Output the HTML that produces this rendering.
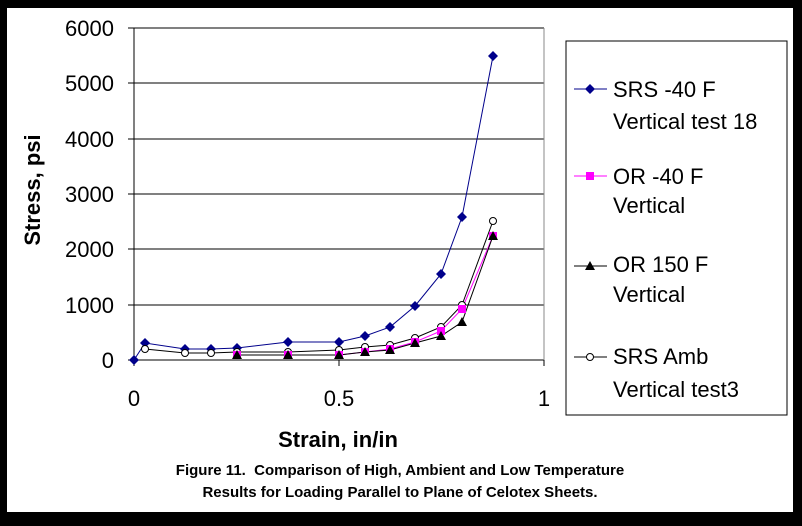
<!DOCTYPE html>
<html><head><style>body{margin:0;background:#000}</style></head><body>
<svg width="802" height="521" xmlns="http://www.w3.org/2000/svg" font-family="Liberation Sans, Arial, sans-serif">
<rect x="0" y="0" width="802" height="521" fill="#000"/>
<rect x="7" y="8" width="786" height="504" fill="#fff"/>
<g stroke="#000" stroke-width="1">
<line x1="134" y1="28" x2="544" y2="28"/>
<line x1="134" y1="83" x2="544" y2="83"/>
<line x1="134" y1="139" x2="544" y2="139"/>
<line x1="134" y1="194" x2="544" y2="194"/>
<line x1="134" y1="249" x2="544" y2="249"/>
<line x1="134" y1="305" x2="544" y2="305"/>
<line x1="128" y1="360" x2="544" y2="360"/>
<line x1="134" y1="28" x2="134" y2="366"/>
<line x1="339" y1="360" x2="339" y2="366"/>
<line x1="544" y1="360" x2="544" y2="366"/>
<line x1="128" y1="28" x2="134" y2="28"/>
<line x1="128" y1="83" x2="134" y2="83"/>
<line x1="128" y1="139" x2="134" y2="139"/>
<line x1="128" y1="194" x2="134" y2="194"/>
<line x1="128" y1="249" x2="134" y2="249"/>
<line x1="128" y1="305" x2="134" y2="305"/>
</g>
<line x1="544" y1="28" x2="544" y2="360" stroke="#888"/>
<g font-size="22" text-anchor="end">
<text x="114" y="36">6000</text><text x="114" y="91">5000</text><text x="114" y="147">4000</text>
<text x="114" y="202">3000</text><text x="114" y="257">2000</text><text x="114" y="313">1000</text><text x="114" y="368">0</text>
</g>
<g font-size="22" text-anchor="middle">
<text x="134" y="406">0</text><text x="339" y="406">0.5</text><text x="544" y="406">1</text>
</g>
<text x="338" y="447" font-size="22" font-weight="bold" text-anchor="middle">Strain, in/in</text>
<text transform="translate(40,190) rotate(-90)" font-size="22" font-weight="bold" text-anchor="middle">Stress, psi</text>
<text x="400" y="475" font-size="15" font-weight="bold" text-anchor="middle">Figure 11.&#160; Comparison of High, Ambient and Low Temperature</text>
<text x="400" y="497" font-size="15" font-weight="bold" text-anchor="middle">Results for Loading Parallel to Plane of Celotex Sheets.</text>

<polyline fill="none" stroke="#00008b" points="134,360 145,343 185,349 211,349 237,348 288,342 339,342 365,336 390,327 415,306 441,274 462,217 493,56"/>
<polyline fill="none" stroke="#000" points="145,349 185,353 211,353 237,352 288,352 339,350 365,347 390,345 415,338 441,327 462,305 493,221"/>
<polyline fill="none" stroke="#ff00ff" points="237,355 288,355 339,355 365,352 390,349 415,342 441,331 462,309 493,236"/>
<polyline fill="none" stroke="#000" points="237,355 288,355 339,355 365,352 390,350 415,343 441,336 462,322 493,236"/>
<g fill="#00008b">
<path d="M134,355l5,5-5,5-5-5z"/><path d="M145,338l5,5-5,5-5-5z"/><path d="M185,344l5,5-5,5-5-5z"/><path d="M211,344l5,5-5,5-5-5z"/><path d="M237,343l5,5-5,5-5-5z"/><path d="M288,337l5,5-5,5-5-5z"/><path d="M339,337l5,5-5,5-5-5z"/><path d="M365,331l5,5-5,5-5-5z"/><path d="M390,322l5,5-5,5-5-5z"/><path d="M415,301l5,5-5,5-5-5z"/><path d="M441,269l5,5-5,5-5-5z"/><path d="M462,212l5,5-5,5-5-5z"/><path d="M493,51l5,5-5,5-5-5z"/>
</g>
<g fill="#fff" stroke="#000">
<circle cx="145" cy="349" r="3.5"/><circle cx="185" cy="353" r="3.5"/><circle cx="211" cy="353" r="3.5"/><circle cx="237" cy="352" r="3.5"/><circle cx="288" cy="352" r="3.5"/><circle cx="339" cy="350" r="3.5"/><circle cx="365" cy="347" r="3.5"/><circle cx="390" cy="345" r="3.5"/><circle cx="415" cy="338" r="3.5"/><circle cx="441" cy="327" r="3.5"/><circle cx="462" cy="305" r="3.5"/><circle cx="493" cy="221" r="3.5"/>
</g>
<g fill="#ff00ff">
<rect x="233" y="351" width="8" height="8"/><rect x="284" y="351" width="8" height="8"/><rect x="335" y="351" width="8" height="8"/><rect x="361" y="348" width="8" height="8"/><rect x="386" y="345" width="8" height="8"/><rect x="411" y="338" width="8" height="8"/><rect x="437" y="327" width="8" height="8"/><rect x="458" y="305" width="8" height="8"/><rect x="489" y="232" width="8" height="8"/>
</g>
<g fill="#000">
<path d="M237,350l5,9h-10z"/><path d="M288,350l5,9h-10z"/><path d="M339,350l5,9h-10z"/><path d="M365,347l5,9h-10z"/><path d="M390,345l5,9h-10z"/><path d="M415,338l5,9h-10z"/><path d="M441,331l5,9h-10z"/><path d="M462,317l5,9h-10z"/><path d="M493,231l5,9h-10z"/>
</g>

<rect x="566" y="41" width="221" height="374" fill="#fff" stroke="#000"/>
<g font-size="22">
<text x="613" y="97">SRS -40 F</text><text x="613" y="129">Vertical test 18</text>
<text x="613" y="184">OR -40 F</text><text x="613" y="213">Vertical</text>
<text x="613" y="272">OR 150 F</text><text x="613" y="302">Vertical</text>
<text x="613" y="364">SRS Amb</text><text x="613" y="397">Vertical test3</text>
</g>
<line x1="574" y1="89" x2="607" y2="89" stroke="#00008b"/><path d="M590,84l5,5-5,5-5-5z" fill="#00008b"/>
<line x1="574" y1="176" x2="607" y2="176" stroke="#ff00ff"/><rect x="586" y="172" width="8" height="8" fill="#ff00ff"/>
<line x1="574" y1="266" x2="607" y2="266" stroke="#000"/><path d="M590,261l5,9h-10z" fill="#000"/>
<line x1="574" y1="357" x2="607" y2="357" stroke="#000"/><circle cx="590" cy="357" r="3.5" fill="#fff" stroke="#000"/>
</svg>
</body></html>
